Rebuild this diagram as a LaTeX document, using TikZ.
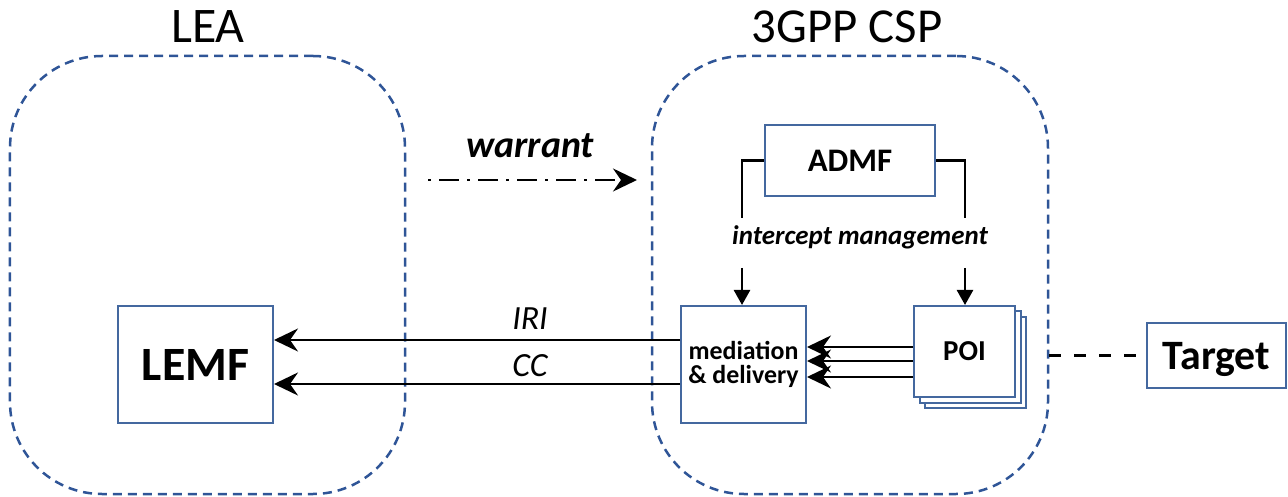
\documentclass[tikz,border=0pt]{standalone}
\usepackage{fontspec}
\setmainfont{Carlito}
\usetikzlibrary{arrows.meta}
\definecolor{regionblue}{HTML}{2F5597}
\definecolor{boxblue}{HTML}{44689F}
\tikzset{
  region/.style={draw=regionblue, line width=2.5bp, dash pattern=on 9bp off 6bp, rounded corners=92bp, inner sep=0pt},
  box/.style={draw=boxblue, line width=2bp, fill=white, inner sep=0pt, align=center, font=\bfseries},
  conn/.style={draw=black, line width=2.6bp},
  bigarr/.style={-{Stealth[length=24bp,width=23bp,inset=8bp]}},
  smallarr/.style={-{Triangle[length=15bp,width=16bp]}},
  lbl/.style={inner sep=0pt, anchor=base},
  tdash/.style={draw=black, line width=2.5bp, dash pattern=on 12bp off 13bp},
  wdash/.style={draw=black, line width=2.5bp, dash pattern=on 3bp off 8bp on 20bp off 8bp}
}
\begin{document}
\begin{tikzpicture}[x=1bp,y=-1bp]
\useasboundingbox (0,0) rectangle (1288,497);
% regions
\node[region, minimum width=395bp, minimum height=438bp] (lea) at (207.5,275) {};
\node[region, minimum width=396bp, minimum height=438bp] (csp) at (850,275) {};
\node[lbl, font=\fontsize{50}{52}\selectfont] (lealbl) at (208,43) {LEA};
\node[lbl, font=\fontsize{49}{52}\selectfont] (csplbl) at (847,43) {3GPP CSP};
% boxes
\node[box, minimum width=155bp, minimum height=117bp, font=\bfseries\fontsize{48}{52}\selectfont] (lemf) at (195.5,364.5) {LEMF};
\node[box, minimum width=125bp, minimum height=117bp, font=\bfseries\fontsize{26}{24.5}\selectfont] (med) at (743.5,364.5) {mediation\\\& delivery};
\node[box, minimum width=170bp, minimum height=71bp, font=\bfseries\fontsize{33}{36}\selectfont] (admf) at (850,160.5) {ADMF};
\node[box, minimum width=101bp, minimum height=91bp] (poi3) at (975.5,362.5) {};
\node[box, minimum width=101bp, minimum height=91bp] (poi2) at (970,357) {};
\node[box, minimum width=101bp, minimum height=91bp, font=\bfseries\fontsize{29}{30}\selectfont] (poi) at (964.5,351.5) {POI};
\node[box, minimum width=139bp, minimum height=65bp, text depth=0pt, font=\bfseries\fontsize{42}{44}\selectfont] (target) at (1216.5,355.5) {Target};
% intercept management
\coordinate (imL1) at (742,218);
\coordinate (imL2) at (742,268);
\coordinate (imR1) at (965,218);
\coordinate (imR2) at (965,268);
\draw[conn] (admf.west) -| (imL1);
\draw[conn] (admf.east) -| (imR1);
\draw[conn, smallarr] (imL2) -- (med.north -| imL2);
\draw[conn, smallarr] (imR2) -- (poi.north -| imR2);
\node[lbl, font=\bfseries\itshape\fontsize{27}{28}\selectfont] (imlbl) at (860,245) {intercept management};
% POI to mediation
\foreach \yy in {347,361,377}{
  \draw[conn, bigarr] (poi.west |- 0,\yy) -- (med.east |- 0,\yy);
}
% IRI / CC
\draw[conn, bigarr] (med.west |- 0,340) -- (lemf.east |- 0,340);
\draw[conn, bigarr] (med.west |- 0,384) -- (lemf.east |- 0,384);
\node[lbl, font=\itshape\fontsize{34}{36}\selectfont] (iri) at (530,330) {IRI};
\node[lbl, font=\itshape\fontsize{34}{36}\selectfont] (cc) at (530,377) {CC};
% warrant
\coordinate (w1) at (428,180);
\coordinate (w2) at (637,180);
\draw[wdash, bigarr] (w1) -- (w2);
\node[lbl, font=\bfseries\itshape\fontsize{38}{40}\selectfont] (warrant) at (530,158) {warrant};
% target link
\draw[tdash] (csp.east |- target.west) -- (target.west);
\end{tikzpicture}
\end{document}
